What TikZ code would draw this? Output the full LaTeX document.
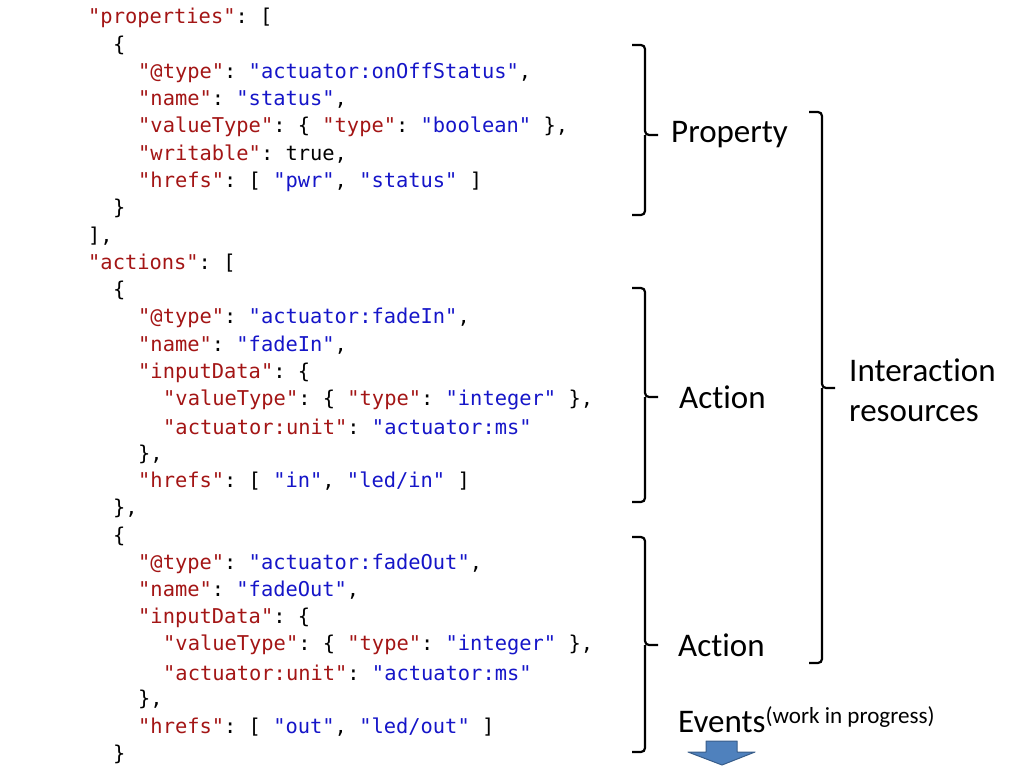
\documentclass[tikz,border=0pt]{standalone}
\usepackage{fontspec}
\setmonofont{DejaVu Sans Mono}
\newfontfamily\lbl[Ligatures=NoCommon]{Carlito}
\definecolor{keyc}{HTML}{A31515}
\definecolor{valc}{HTML}{1515C8}
\newcommand{\jk}[1]{\textcolor{keyc}{"#1"}}
\newcommand{\jv}[1]{\textcolor{valc}{"#1"}}
\tikzset{code/.style={anchor=west,inner sep=0pt,font=\ttfamily\fontsize{20.4}{24}\selectfont},
 lab/.style={anchor=west,inner sep=0pt,font=\lbl\fontsize{33}{40}\selectfont},
 br/.style={line width=2.2pt,rounded corners=4pt}}
\begin{document}
\begin{tikzpicture}[x=1pt,y=-1pt]
\useasboundingbox (0,0) rectangle (1024,768);
\newcommand\cl[4]{\node[code] (#1) at (#2,{18+27.27*#3}) {#4};}
\cl{l0}{88}{0}{\jk{properties}: [}
\cl{l1}{113}{1}{\{}
\cl{l2}{138}{2}{\jk{@type}: \jv{actuator:onOffStatus},}
\cl{l3}{138}{3}{\jk{name}: \jv{status},}
\cl{l4}{138}{4}{\jk{valueType}: \{ \jk{type}: \jv{boolean} \},}
\cl{l5}{138}{5}{\jk{writable}: true,}
\cl{l6}{138}{6}{\jk{hrefs}: [ \jv{pwr}, \jv{status} ]}
\cl{l7}{113}{7}{\}}
\cl{l8}{88}{8}{],}
\cl{l9}{88}{9}{\jk{actions}: [}
\cl{l10}{113}{10}{\{}
\cl{l11}{138}{11}{\jk{@type}: \jv{actuator:fadeIn},}
\cl{l12}{138}{12}{\jk{name}: \jv{fadeIn},}
\cl{l13}{138}{13}{\jk{inputData}: \{}
\cl{l14}{163}{14}{\jk{valueType}: \{ \jk{type}: \jv{integer} \},}
\cl{l15}{163}{15}{\jk{actuator:unit}: \jv{actuator:ms}}
\cl{l16}{138}{16}{\},}
\cl{l17}{138}{17}{\jk{hrefs}: [ \jv{in}, \jv{led/in} ]}
\cl{l18}{113}{18}{\},}
\cl{l19}{113}{19}{\{}
\cl{l20}{138}{20}{\jk{@type}: \jv{actuator:fadeOut},}
\cl{l21}{138}{21}{\jk{name}: \jv{fadeOut},}
\cl{l22}{138}{22}{\jk{inputData}: \{}
\cl{l23}{163}{23}{\jk{valueType}: \{ \jk{type}: \jv{integer} \},}
\cl{l24}{163}{24}{\jk{actuator:unit}: \jv{actuator:ms}}
\cl{l25}{138}{25}{\},}
\cl{l26}{138}{26}{\jk{hrefs}: [ \jv{out}, \jv{led/out} ]}
\cl{l27}{113}{27}{\}}
% braces
\newcommand\brc[4]{\draw[br] (#3-13,#1) -- (#3,#1) -- (#3,#2) -- (#3+13,#2) (#3,#2) -- (#3,#4) -- (#3-13,#4);}
\brc{45}{135}{645}{215}
\brc{288}{397}{645}{502}
\brc{537}{645}{645}{752}
\brc{112}{388}{822}{663}
\node[lab] (prop) at (671,135) {Property};
\node[lab] (act1) at (679,397) {Action};
\node[lab] (act2) at (678,645) {Action};
\node[lab,align=left] (ir) at (849,390) {Interaction\\resources};
\node[lab] (ev) at (678,720) {Events\textsuperscript{(work in progress)}};
\draw[fill={rgb,255:red,79;green,129;blue,189},draw={rgb,255:red,56;green,93;blue,138},line width=1pt,line join=round]
  (706,741) -- (737,741) -- (737,752) -- (755,752) -- (722,765) -- (688,752) -- (706,752) -- cycle;
\end{tikzpicture}
\end{document}
